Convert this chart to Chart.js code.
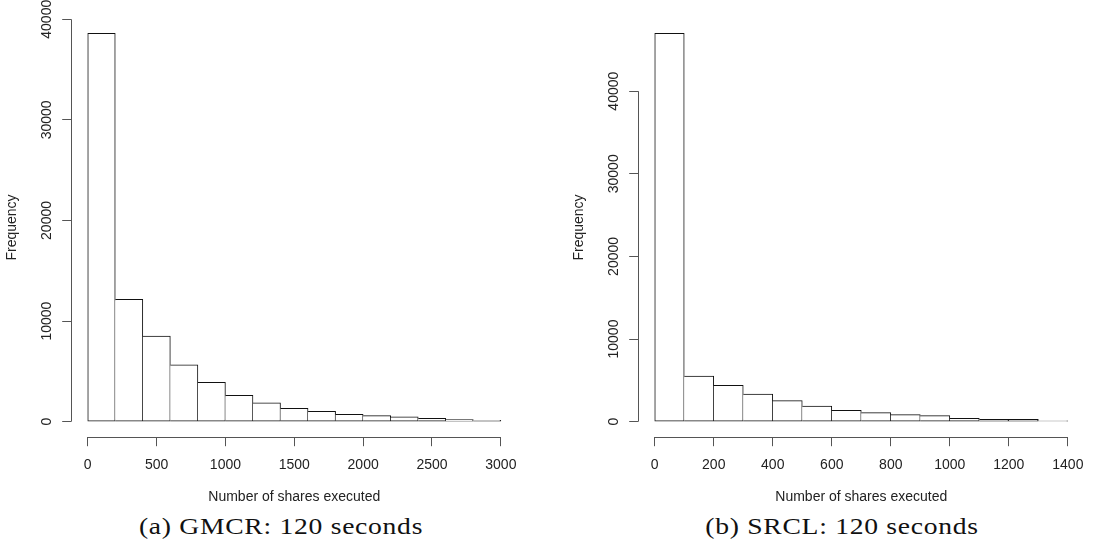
<!DOCTYPE html>
<html>
<head>
<meta charset="utf-8">
<script src="https://cdn.jsdelivr.net/npm/chart.js@4"></script>
<style>
  body { margin: 0; background: #fff; width: 1094px; height: 559px; position: relative; overflow: hidden; }
  canvas { position: absolute; top: 0; }
  #gmcr { left: 0; }
  #srcl { left: 567px; }
  .caption {
    position: absolute; top: 515px; width: 400px; text-align: center;
    font-family: 'Liberation Serif', 'DejaVu Serif', serif; font-size: 23px; line-height: 24px;
    letter-spacing: 0.6px; color: #111; transform: scaleX(1.2); transform-origin: center;
  }
</style>
</head>
<body>
<canvas id="gmcr" width="527" height="510"></canvas>
<canvas id="srcl" width="527" height="510"></canvas>
<div class="caption" style="left: 81px;">(a) GMCR: 120 seconds</div>
<div class="caption" style="left: 642px;">(b) SRCL: 120 seconds</div>
<script>
// histogram bins (left edge of each bin) and counts
const gmcrBinWidth = 200;
const gmcrBins = [0, 200, 400, 600, 800, 1000, 1200, 1400, 1600, 1800, 2000, 2200, 2400, 2600, 2800];
const gmcrCounts = [38600, 12150, 8500, 5650, 3900, 2620, 1880, 1330, 1030, 740, 600, 470, 340, 210, 140];
const gmcrTicks = [0, 500, 1000, 1500, 2000, 2500, 3000];

const srclBinWidth = 100;
const srclBins = [0, 100, 200, 300, 400, 500, 600, 700, 800, 900, 1000, 1100, 1200, 1300];
const srclCounts = [47000, 5530, 4400, 3350, 2540, 1900, 1380, 1090, 850, 730, 410, 290, 290, 110];
const srclTicks = [0, 200, 400, 600, 800, 1000, 1200, 1400];

const freqTicks = [0, 10000, 20000, 30000, 40000];

const xTitle = 'Number of shares executed';
const yTitle = 'Frequency';

const inkColor = '#222';
const axisColor = '#555';
const barLine = '#111';

Chart.defaults.font.family = "'Liberation Sans', Arial, sans-serif";
Chart.defaults.font.size = 14;
Chart.defaults.color = inkColor;

// R draws its axis lines only from the first to the last tick
const rAxes = {
  id: 'rAxes',
  afterDraw(chart) {
    const {ctx, chartArea, scales} = chart;
    const x = scales.x, y = scales.y;
    const px = v => Math.floor(v) + 0.5;
    ctx.save();
    ctx.strokeStyle = axisColor;
    ctx.lineWidth = 1;
    ctx.beginPath();
    ctx.moveTo(x.getPixelForValue(x.ticks[0].value), px(chartArea.bottom));
    ctx.lineTo(x.getPixelForValue(x.ticks[x.ticks.length - 1].value), px(chartArea.bottom));
    ctx.moveTo(px(chartArea.left), y.getPixelForValue(y.ticks[0].value));
    ctx.lineTo(px(chartArea.left), y.getPixelForValue(y.ticks[y.ticks.length - 1].value));
    ctx.stroke();
    ctx.restore();
  }
};

function histogram(id, bins, binWidth, counts, xTicks) {
  const xMin = xTicks[0], xMax = xTicks[xTicks.length - 1];
  const xPad = (xMax - xMin) * 0.04;
  const yTop = Math.max(...counts);

  // shared edges drawn once: every bar has its right edge, a left edge only
  // where it stands taller than its neighbour
  const sides = c => {
    const i = c.dataIndex;
    const left = (i === 0 || counts[i] > counts[i - 1]) ? 1 : 0;
    return {top: 1, bottom: 1, left: left, right: 1};
  };

  return new Chart(document.getElementById(id), {
    type: 'bar',
    data: {
      datasets: [{
        data: bins.map((b, i) => ({x: b + binWidth / 2, y: counts[i]})),
        backgroundColor: '#fff',
        borderColor: barLine,
        borderWidth: sides,
        borderSkipped: false,
        barPercentage: 1,
        categoryPercentage: 1
      }]
    },
    options: {
      responsive: false,
      animation: false,
      devicePixelRatio: 1,
      layout: {padding: {left: 0, right: 2.2, top: 17.8, bottom: 4.9}},
      plugins: {legend: {display: false}, tooltip: {enabled: false}},
      scales: {
        x: {
          type: 'linear',
          offset: false,
          min: xMin - xPad,
          max: xMax + xPad,
          afterBuildTicks: s => { s.ticks = xTicks.map(v => ({value: v})); },
          afterFit: s => { s.height = 67.9; },
          grid: {drawOnChartArea: false, drawTicks: true, tickLength: 9, color: axisColor, offset: false},
          border: {display: false},
          ticks: {padding: 10.5, maxRotation: 0, autoSkip: false, callback: v => String(v)},
          title: {display: true, text: xTitle, padding: {top: 0, bottom: 0}}
        },
        y: {
          min: -yTop * 0.04,
          max: yTop * 1.04,
          afterBuildTicks: s => { s.ticks = freqTicks.map(v => ({value: v})); },
          afterFit: s => { s.width = 71.2; },
          grid: {drawOnChartArea: false, drawTicks: true, tickLength: 9, color: axisColor},
          border: {display: false},
          ticks: {padding: -4.8, minRotation: 90, maxRotation: 90, crossAlign: 'center', autoSkip: false, callback: v => String(v)},
          title: {display: true, text: yTitle, padding: {top: 3.6, bottom: 0}}
        }
      }
    },
    plugins: [rAxes]
  });
}

histogram('gmcr', gmcrBins, gmcrBinWidth, gmcrCounts, gmcrTicks);
histogram('srcl', srclBins, srclBinWidth, srclCounts, srclTicks);
</script>
</body>
</html>
